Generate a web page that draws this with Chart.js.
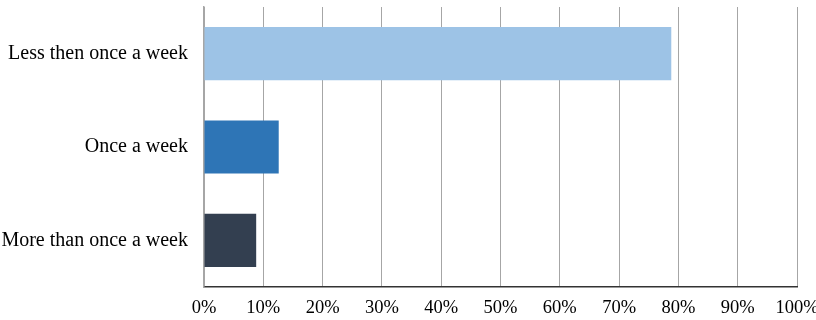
<!DOCTYPE html>
<html>
<head>
<meta charset="utf-8">
<script src="https://cdn.jsdelivr.net/npm/chart.js@4"></script>
<style>
  html, body { margin: 0; padding: 0; background: #fff; overflow: hidden; }
  #wrap { width: 816px; height: 320px; }
</style>
</head>
<body>
<div id="wrap"><canvas id="chart"></canvas></div>
<script>
const categories = ['Less then once a week', 'Once a week', 'More than once a week'];
const shares = [78.8, 12.6, 8.8];
const barColors = ['#9dc3e6', '#2e75b6', '#333f50'];

const config = {
  type: 'bar',
  data: {
    labels: categories,
    datasets: [{
      data: shares,
      backgroundColor: barColors,
      borderWidth: 0,
      barPercentage: 0.57,
      categoryPercentage: 1
    }]
  },
  options: {
    indexAxis: 'y',
    responsive: true,
    maintainAspectRatio: false,
    animation: false,
    layout: { padding: { top: 7, right: 19, left: 0, bottom: 0 } },
    plugins: {
      legend: { display: false },
      tooltip: { enabled: false }
    },
    scales: {
      x: {
        min: 0,
        max: 100,
        ticks: {
          stepSize: 10,
          padding: 10,
          color: '#000',
          font: { family: '"Liberation Serif", "Times New Roman", serif', size: 18.5 },
          callback: (v) => v + '%'
        },
        grid: { color: '#a6a6a6', lineWidth: 1, drawTicks: false },
        border: { color: '#333333', width: 1.5 },
        afterFit: (scale) => {
          scale.height = 33;
          scale.paddingLeft = 0;
          scale.paddingRight = 0;
        }
      },
      y: {
        ticks: {
          padding: 16,
          color: '#000',
          font: { family: '"Liberation Serif", "Times New Roman", serif', size: 20 }
        },
        grid: { display: false, drawTicks: false },
        border: { color: '#a6a6a6', width: 1.5 },
        afterFit: (scale) => {
          scale.width = 204;
          scale.paddingTop = 0;
          scale.paddingBottom = 0;
        }
      }
    }
  }
};

new Chart(document.getElementById('chart'), config);
</script>
</body>
</html>
